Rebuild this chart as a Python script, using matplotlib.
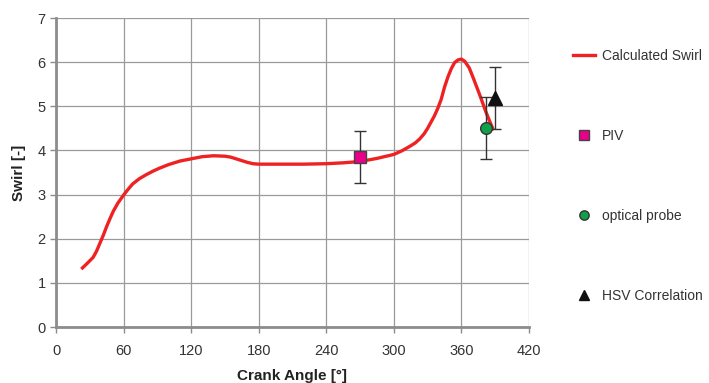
import matplotlib.pyplot as plt
import numpy as np

plt.rcParams['font.family'] = ['Liberation Sans', 'DejaVu Sans']

# calculated swirl curve
crank = [23.5, 28, 33, 36, 39, 42, 45, 48, 51, 55, 60, 64, 68, 74, 80, 86,
         92, 100, 110, 120, 130, 140, 150, 155, 160, 165, 170, 175, 180,
         200, 220, 240, 255, 270, 285, 295, 300, 307, 314, 319, 323, 327,
         330, 333, 336, 339, 342, 345, 348, 351, 354, 357, 360, 363, 367,
         370, 373, 376, 379, 382, 385, 388]
swirl = [1.34, 1.45, 1.58, 1.72, 1.9, 2.08, 2.28, 2.46, 2.63, 2.81, 2.99,
         3.12, 3.24, 3.36, 3.45, 3.53, 3.6, 3.68, 3.76, 3.81, 3.86, 3.88,
         3.87, 3.85, 3.81, 3.77, 3.73, 3.70, 3.69, 3.69, 3.69, 3.70, 3.72,
         3.75, 3.82, 3.88, 3.91, 3.99, 4.09, 4.17, 4.26, 4.38, 4.5, 4.64,
         4.78, 4.95, 5.15, 5.43, 5.66, 5.85, 5.99, 6.05, 6.07, 6.02, 5.87,
         5.68, 5.48, 5.28, 5.07, 4.86, 4.67, 4.49]

# measurements
piv_x, piv_y, piv_err = [270], [3.86], [0.59]
probe_x, probe_y, probe_err = [382], [4.5], [0.7]
hsv_x, hsv_y, hsv_err = [390], [5.19], [0.7]

fig = plt.figure(figsize=(7.09, 3.83), dpi=100)
ax = fig.add_axes([0.079, 0.146, 0.667, 0.807])

ax.plot(crank, swirl, color='#ee2222', lw=2.4, label='Calculated Swirl', zorder=3)
for x, y, e in [(piv_x, piv_y, piv_err), (probe_x, probe_y, probe_err), (hsv_x, hsv_y, hsv_err)]:
    ax.errorbar(x, y, yerr=e, fmt='none', ecolor='#333333', elinewidth=1,
                capsize=4, zorder=4)
ax.plot(piv_x, piv_y, 's', ms=8.6, mfc='#e8008a', mec='#444444', mew=1, ls='none',
        label='PIV', zorder=5)
ax.plot(probe_x, probe_y, 'o', ms=8.4, mfc='#11a04a', mec='#333333', mew=1, ls='none',
        label='optical probe', zorder=5)
ax.plot(hsv_x, hsv_y, '^', ms=9.5, mfc='#111111', mec='#111111', mew=1, ls='none',
        label='HSV Correlation', zorder=5)

ax.set_xlim(0, 420)
ax.set_ylim(0, 7)
ax.set_xticks(np.arange(0, 421, 60))
ax.set_yticks(np.arange(0, 8, 1))
ax.grid(True, color='#9a9a9a', lw=0.9)
ax.set_axisbelow(True)
for s in ['top', 'right']:
    ax.spines[s].set_visible(False)
for s in ['left', 'bottom']:
    ax.spines[s].set_color('#8c8c8c')
    ax.spines[s].set_linewidth(2)
ax.tick_params(colors='#8c8c8c', labelcolor='#333333', labelsize=10.5, length=4, width=1)
ax.tick_params(axis='x', pad=8)
ax.set_xlabel('Crank Angle [°]', fontsize=11, fontweight='bold', color='#222222', labelpad=8)
ax.set_ylabel('Swirl [-]', fontsize=11, fontweight='bold', color='#222222', labelpad=8)

handles, labels = ax.get_legend_handles_labels()
leg = fig.legend(handles, labels, loc='upper left', bbox_to_anchor=(0.79, 0.905),
                 frameon=False, fontsize=10, labelspacing=4.75, handlelength=1.6,
                 handletextpad=0.5, markerscale=0.8)
for t in leg.get_texts():
    t.set_color('#333333')

fig.savefig('out.png', dpi=100)
